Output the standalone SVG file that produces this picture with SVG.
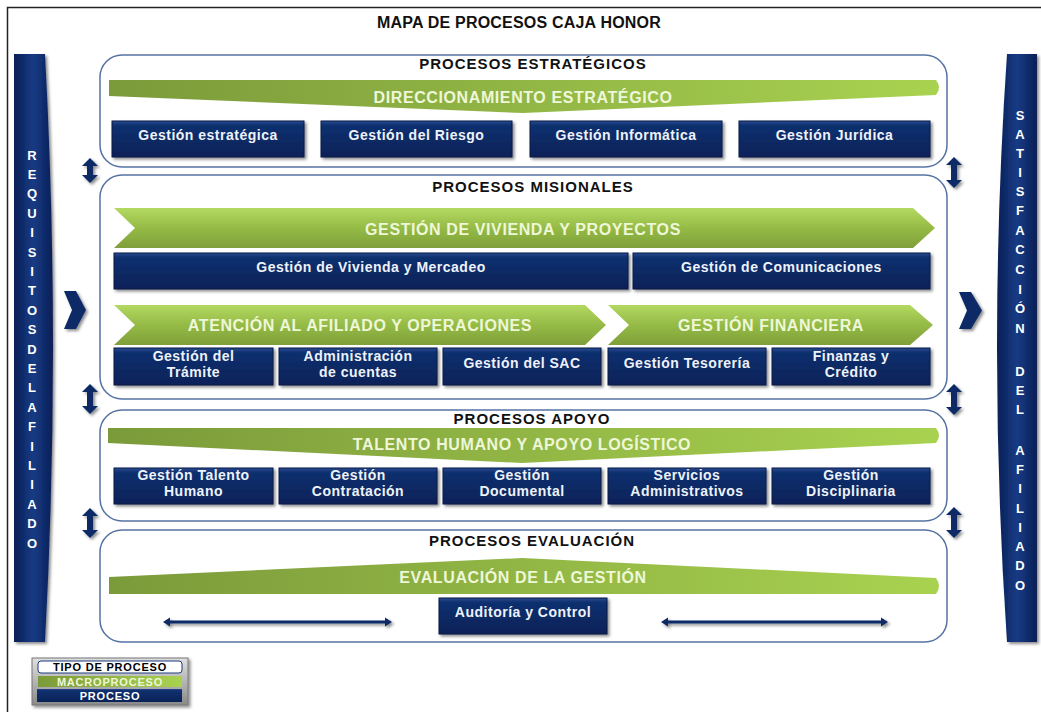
<svg xmlns="http://www.w3.org/2000/svg" width="1041" height="712" viewBox="0 0 1041 712">
<defs>
<linearGradient id="gGreen" x1="0" y1="0" x2="1" y2="0">
<stop offset="0" stop-color="#7b9a3a"/><stop offset="1" stop-color="#a9d250"/>
</linearGradient>
<linearGradient id="gGreenV" x1="0" y1="0" x2="0" y2="1">
<stop offset="0" stop-color="#b3d962"/><stop offset="0.5" stop-color="#95bb46"/><stop offset="1" stop-color="#7f9f3a"/>
</linearGradient>
<linearGradient id="gNavy" x1="0" y1="0" x2="0" y2="1">
<stop offset="0" stop-color="#2a4b94"/><stop offset="0.12" stop-color="#10306f"/><stop offset="1" stop-color="#0a2258"/>
</linearGradient>
<linearGradient id="gCol" x1="0" y1="0" x2="1" y2="0">
<stop offset="0" stop-color="#0a1f55"/><stop offset="0.5" stop-color="#173b85"/><stop offset="1" stop-color="#0a1f55"/>
</linearGradient>
<linearGradient id="gGray" x1="0" y1="0" x2="0" y2="1">
<stop offset="0" stop-color="#e0e0e0"/><stop offset="1" stop-color="#8a8a8a"/>
</linearGradient>
<filter id="sh" x="-10%" y="-20%" width="130%" height="160%">
<feDropShadow dx="2" dy="2" stdDeviation="1.5" flood-color="#000" flood-opacity="0.45"/>
</filter>
</defs>
<style>
.sec{fill:#fff;stroke:#5573a3;stroke-width:1.5}
.box{fill:url(#gNavy);stroke:#071a45;stroke-width:1;filter:url(#sh)}
.bt{font-family:"Liberation Sans",Arial,sans-serif;font-weight:bold;font-size:14px;letter-spacing:0.5px;fill:#eef2fa;text-anchor:middle}
.gt{font-family:"Liberation Sans",Arial,sans-serif;font-weight:bold;font-size:16px;letter-spacing:0.6px;fill:#eef7d8;text-anchor:middle}
.st{font-family:"Liberation Sans",Arial,sans-serif;font-weight:bold;font-size:15px;letter-spacing:1px;fill:#111;text-anchor:middle}
.ct{font-family:"Liberation Sans",Arial,sans-serif;font-weight:bold;font-size:13px;fill:#fff;text-anchor:middle}
.lt{font-family:"Liberation Sans",Arial,sans-serif;font-weight:bold;font-size:11px;letter-spacing:0.8px;text-anchor:middle}
.arr{fill:#0d2a66}
</style>
<rect x="7.5" y="7.5" width="1040" height="710" fill="#fff" stroke="#222" stroke-width="1.5"/>
<text class="st" x="519" y="28" style="font-size:16px;letter-spacing:0.2px">MAPA DE PROCESOS CAJA HONOR</text>

<g id="col-requisitos">
<path d="M14,54 L45,54 Q61,348 45,642 L14,642 Z" fill="url(#gCol)" filter="url(#sh)"/>
<text class="ct" x="32"><tspan x="32" y="159.5">R</tspan><tspan x="32" y="178.9">E</tspan><tspan x="32" y="198.3">Q</tspan><tspan x="32" y="217.7">U</tspan><tspan x="32" y="237.1">I</tspan><tspan x="32" y="256.5">S</tspan><tspan x="32" y="275.9">I</tspan><tspan x="32" y="295.3">T</tspan><tspan x="32" y="314.7">O</tspan><tspan x="32" y="334.1">S</tspan><tspan x="32" y="353.5">D</tspan><tspan x="32" y="372.9">E</tspan><tspan x="32" y="392.3">L</tspan><tspan x="32" y="411.7">A</tspan><tspan x="32" y="431.1">F</tspan><tspan x="32" y="450.5">I</tspan><tspan x="32" y="469.9">L</tspan><tspan x="32" y="489.3">I</tspan><tspan x="32" y="508.7">A</tspan><tspan x="32" y="528.1">D</tspan><tspan x="32" y="547.5">O</tspan></text>
</g>

<g id="col-satisfaccion">
<path d="M1007,54 L1037,54 L1037,642 L1007,642 Q987,348 1007,54 Z" fill="url(#gCol)" filter="url(#sh)"/>
<text class="ct" x="1020"><tspan x="1020" y="119.5">S</tspan><tspan x="1020" y="138.5">A</tspan><tspan x="1020" y="157.5">T</tspan><tspan x="1020" y="176.5">I</tspan><tspan x="1020" y="195.5">S</tspan><tspan x="1020" y="214.5">F</tspan><tspan x="1020" y="234.5">A</tspan><tspan x="1020" y="253.5">C</tspan><tspan x="1020" y="273.5">C</tspan><tspan x="1020" y="293.5">I</tspan><tspan x="1020" y="312.5">Ó</tspan><tspan x="1020" y="332.5">N</tspan><tspan x="1020" y="375.5">D</tspan><tspan x="1020" y="394.5">E</tspan><tspan x="1020" y="413.5">L</tspan><tspan x="1020" y="454.5">A</tspan><tspan x="1020" y="473.5">F</tspan><tspan x="1020" y="492.5">I</tspan><tspan x="1020" y="512.5">L</tspan><tspan x="1020" y="531.5">I</tspan><tspan x="1020" y="550.5">A</tspan><tspan x="1020" y="569.5">D</tspan><tspan x="1020" y="589.5">O</tspan></text>
</g>

<g id="sec-estrategicos">
<rect class="sec" x="100" y="55" width="847" height="112" rx="22"/>
<text class="st" x="533" y="69">PROCESOS ESTRATÉGICOS</text>
<path d="M109,80 L936,80 Q942,87.5 936,95 L523,113 L109,96 Z" fill="url(#gGreen)"/>
<text class="gt" x="523" y="102.5">DIRECCIONAMIENTO ESTRATÉGICO</text>
</g>
<g id="n-gestion-estrategica"><rect class="box" x="112" y="121" width="192" height="36"/><text class="bt" x="208" y="140">Gestión estratégica</text></g>
<g id="n-gestion-riesgo"><rect class="box" x="321" y="121" width="191" height="36"/><text class="bt" x="416.5" y="140">Gestión del Riesgo</text></g>
<g id="n-gestion-informatica"><rect class="box" x="530" y="121" width="192" height="36"/><text class="bt" x="626" y="140">Gestión Informática</text></g>
<g id="n-gestion-juridica"><rect class="box" x="739" y="121" width="191" height="36"/><text class="bt" x="834.5" y="140">Gestión Jurídica</text></g>

<g id="sec-misionales">
<rect class="sec" x="100" y="175" width="847" height="224" rx="22"/>
<text class="st" x="533" y="192">PROCESOS MISIONALES</text>
<path d="M114,208 L913,208 L935,228 L913,248 L114,248 L135,228 Z" fill="url(#gGreenV)"/>
<text class="gt" x="523" y="234.5">GESTIÓN DE VIVIENDA Y PROYECTOS</text>
<path d="M114,305 L585,305 L606,325 L585,345 L114,345 L135,325 Z" fill="url(#gGreenV)"/>
<text class="gt" x="360" y="330.5">ATENCIÓN AL AFILIADO Y OPERACIONES</text>
<path d="M608,305 L910,305 L933,325 L910,345 L608,345 L629,325 Z" fill="url(#gGreenV)"/>
<text class="gt" x="771" y="330.5">GESTIÓN FINANCIERA</text>
</g>
<g id="n-vivienda-mercadeo"><rect class="box" x="114" y="253" width="514" height="36"/><text class="bt" x="371" y="272">Gestión de Vivienda y Mercadeo</text></g>
<g id="n-comunicaciones"><rect class="box" x="633" y="253" width="297" height="36"/><text class="bt" x="781.5" y="272">Gestión de Comunicaciones</text></g>
<g id="n-tramite"><rect class="box" x="114" y="348" width="159" height="37"/><text class="bt" x="193.5" y="361">Gestión del</text><text class="bt" x="193.5" y="377">Trámite</text></g>
<g id="n-cuentas"><rect class="box" x="279" y="348" width="158" height="37"/><text class="bt" x="358" y="361">Administración</text><text class="bt" x="358" y="377">de cuentas</text></g>
<g id="n-sac"><rect class="box" x="443" y="348" width="158" height="37"/><text class="bt" x="522" y="368">Gestión del SAC</text></g>
<g id="n-tesoreria"><rect class="box" x="608" y="348" width="158" height="37"/><text class="bt" x="687" y="368">Gestión Tesorería</text></g>
<g id="n-finanzas"><rect class="box" x="772" y="348" width="158" height="37"/><text class="bt" x="851" y="361">Finanzas y</text><text class="bt" x="851" y="377">Crédito</text></g>

<g id="sec-apoyo">
<rect class="sec" x="100" y="410" width="847" height="111" rx="22"/>
<text class="st" x="532" y="424">PROCESOS APOYO</text>
<path d="M108,428 L936,428 Q942,435.5 936,443 L522,463 L108,443 Z" fill="url(#gGreen)"/>
<text class="gt" x="522" y="449.5">TALENTO HUMANO Y APOYO LOGÍSTICO</text>
</g>
<g id="n-talento"><rect class="box" x="114" y="468" width="159" height="36"/><text class="bt" x="193.5" y="480">Gestión Talento</text><text class="bt" x="193.5" y="496">Humano</text></g>
<g id="n-contratacion"><rect class="box" x="279" y="468" width="158" height="36"/><text class="bt" x="358" y="480">Gestión</text><text class="bt" x="358" y="496">Contratación</text></g>
<g id="n-documental"><rect class="box" x="443" y="468" width="158" height="36"/><text class="bt" x="522" y="480">Gestión</text><text class="bt" x="522" y="496">Documental</text></g>
<g id="n-servicios"><rect class="box" x="608" y="468" width="158" height="36"/><text class="bt" x="687" y="480">Servicios</text><text class="bt" x="687" y="496">Administrativos</text></g>
<g id="n-disciplinaria"><rect class="box" x="772" y="468" width="158" height="36"/><text class="bt" x="851" y="480">Gestión</text><text class="bt" x="851" y="496">Disciplinaria</text></g>

<g id="sec-evaluacion">
<rect class="sec" x="100" y="530" width="847" height="112" rx="22"/>
<text class="st" x="532" y="546">PROCESOS EVALUACIÓN</text>
<path d="M109,594 L936,594 Q942,586 936,578 L522,558 L109,577 Z" fill="url(#gGreen)"/>
<text class="gt" x="523" y="582.5">EVALUACIÓN DE LA GESTIÓN</text>
</g>
<g id="n-auditoria"><rect class="box" x="439" y="598" width="168" height="36"/><text class="bt" x="523" y="617">Auditoría y Control</text></g>

<g id="connectors" class="arr" filter="url(#sh)">
<path d="M90,158 L98,166 L93,166 L93,175 L98,175 L90,183 L82,175 L87,175 L87,166 L82,166 Z"/>
<path d="M90,384 L98,392 L93,392 L93,406 L98,406 L90,414 L82,406 L87,406 L87,392 L82,392 Z"/>
<path d="M90,508 L98,516 L93,516 L93,530 L98,530 L90,538 L82,530 L87,530 L87,516 L82,516 Z"/>
<path d="M954,157 L962,165 L957,165 L957,180 L962,180 L954,188 L946,180 L951,180 L951,165 L946,165 Z"/>
<path d="M954,384 L962,392 L957,392 L957,407 L962,407 L954,415 L946,407 L951,407 L951,392 L946,392 Z"/>
<path d="M954,507 L962,515 L957,515 L957,530 L962,530 L954,538 L946,530 L951,530 L951,515 L946,515 Z"/>
<path d="M64,291 L76,291 L86,310 L76,329 L64,329 L72,310 Z"/>
<path d="M959,292 L971,292 L982,310.5 L971,329 L959,329 L967,310.5 Z"/>
<path d="M163,622 L170,617.5 L170,620.5 L385,620.5 L385,617.5 L392,622 L385,626.5 L385,623.5 L170,623.5 L170,626.5 Z"/>
<path d="M661,622 L668,617.5 L668,620.5 L881,620.5 L881,617.5 L888,622 L881,626.5 L881,623.5 L668,623.5 L668,626.5 Z"/>
</g>

<g id="legend">
<rect x="32" y="658" width="156" height="47" fill="url(#gGray)" stroke="#777" stroke-width="1" filter="url(#sh)"/>
<rect x="38" y="661" width="144" height="12" rx="3" fill="#fff" stroke="#1b3a7a" stroke-width="1"/>
<text class="lt" x="110" y="671" fill="#000">TIPO DE PROCESO</text>
<rect x="38" y="676" width="144" height="11" fill="url(#gGreen)"/>
<text class="lt" x="110" y="685.5" fill="#eef7d8">MACROPROCESO</text>
<rect x="37" y="689" width="145" height="13" fill="url(#gNavy)"/>
<text class="lt" x="110" y="699.5" fill="#fff">PROCESO</text>
</g>
</svg>
